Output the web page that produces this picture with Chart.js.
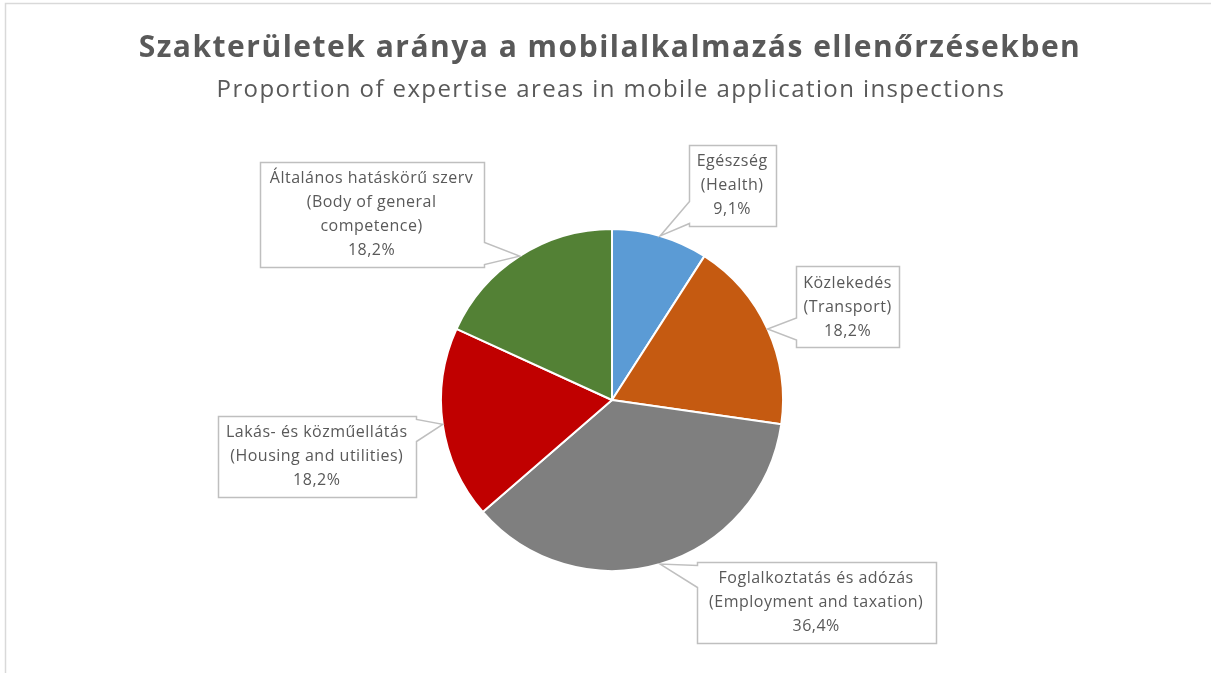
<!DOCTYPE html>
<html>
<head>
<meta charset="utf-8">
<script src="https://cdn.jsdelivr.net/npm/chart.js@4/dist/chart.umd.min.js"></script>
<style>
  html, body { margin: 0; padding: 0; background: #fff; }
  #wrap { width: 1211px; height: 673px; position: relative; }
</style>
</head>
<body>
<div id="wrap"><canvas id="shareChart"></canvas></div>
<script>
let categories = ["Egészség", "Közlekedés", "Foglalkoztatás és adózás", "Lakás- és közműellátás", "Általános hatáskörű szerv"];
let categoriesEn = ["(Health)", "(Transport)", "(Employment and taxation)", "(Housing and utilities)", "(Body of general\ncompetence)"];
let shares = [9.1, 18.2, 36.4, 18.2, 18.2];
let sliceColours = ["#5b9bd5", "#c55a11", "#7f7f7f", "#c00000", "#538135"];

let titleText = "Szakterületek aránya a mobilalkalmazás ellenőrzésekben";
let subtitleText = "Proportion of expertise areas in mobile application inspections";

// callout boxes: offset of box centre from the slice tip, and box width
let calloutOffsets = [[72, -50], [80, -22], [156, 38], [-126, 32], [-148, -42]];
let calloutWidths = [87, 103, 239, 198, 224];

const textGrey = "#595959";
const labelFont = "16px 'Open Sans'";

function pct(v) {
    return v.toFixed(1).replace(".", ",") + "%";
}

const frameAndTitle = {
    id: "frameAndTitle",
    beforeDraw(chart) {
        const ctx = chart.ctx;
        ctx.save();
        ctx.fillStyle = "#fff";
        ctx.fillRect(0, 0, chart.width, chart.height);
        ctx.strokeStyle = "#d9d9d9";
        ctx.lineWidth = 1.5;
        ctx.strokeRect(5.5, 3.5, chart.width + 20, chart.height + 20);
        ctx.fillStyle = textGrey;
        ctx.textAlign = "center";
        ctx.textBaseline = "middle";
        ctx.font = "bold 30px 'Open Sans'";
        ctx.letterSpacing = "1.5px";
        ctx.fillText(titleText, 610, 48);
        ctx.font = "24px 'Open Sans'";
        ctx.letterSpacing = "1.4px";
        ctx.fillText(subtitleText, 611, 90);
        ctx.restore();
    }
};

const callouts = {
    id: "callouts",
    afterDatasetsDraw(chart) {
        const ctx = chart.ctx;
        const meta = chart.getDatasetMeta(0);
        ctx.save();
        ctx.font = labelFont;
        meta.data.forEach(function (arc, i) {
            const p = arc.getProps(["x", "y", "startAngle", "endAngle", "outerRadius"], true);
            const mid = (p.startAngle + p.endAngle) / 2;
            const tx = p.x + Math.cos(mid) * p.outerRadius;
            const ty = p.y + Math.sin(mid) * p.outerRadius;

            const lines = [categories[i]].concat(categoriesEn[i].split("\n"), [pct(shares[i])]);
            const lh = 24;
            const w = calloutWidths[i];
            const h = lines.length * lh + 9;
            const cx = tx + calloutOffsets[i][0];
            const cy = ty + calloutOffsets[i][1];
            const x0 = Math.round(cx - w / 2) + 0.5, x1 = x0 + w;
            const y0 = Math.round(cy - h / 2) + 0.5, y1 = y0 + h;

            // which side the pointer leaves from
            let side;
            if (tx < x0) side = "left";
            else if (tx > x1) side = "right";
            else if (ty > y1) side = "bottom";
            else side = "top";
            const half = 11;
            const clamp = (v, a, b) => Math.max(a, Math.min(b, v));

            ctx.beginPath();
            ctx.moveTo(x0, y0);
            if (side === "top") {
                const c = clamp(tx, x0 + 14, x1 - 14);
                ctx.lineTo(c - half, y0); ctx.lineTo(tx, ty); ctx.lineTo(c + half, y0);
            }
            ctx.lineTo(x1, y0);
            if (side === "right") {
                const c = clamp(ty, y0 + 14, y1 - 14);
                ctx.lineTo(x1, c - half); ctx.lineTo(tx, ty); ctx.lineTo(x1, c + half);
            }
            ctx.lineTo(x1, y1);
            if (side === "bottom") {
                const c = clamp(tx, x0 + 14, x1 - 14);
                ctx.lineTo(c + half, y1); ctx.lineTo(tx, ty); ctx.lineTo(c - half, y1);
            }
            ctx.lineTo(x0, y1);
            if (side === "left") {
                const c = clamp(ty, y0 + 14, y1 - 14);
                ctx.lineTo(x0, c + half); ctx.lineTo(tx, ty); ctx.lineTo(x0, c - half);
            }
            ctx.closePath();
            ctx.fillStyle = "#fff";
            ctx.fill();
            ctx.strokeStyle = "#bfbfbf";
            ctx.lineWidth = 1.5;
            ctx.lineJoin = "miter";
            ctx.stroke();

            ctx.fillStyle = textGrey;
            ctx.textAlign = "center";
            ctx.textBaseline = "middle";
            ctx.letterSpacing = "0.5px";
            const top = cy - (lines.length * lh) / 2 + lh / 2;
            lines.forEach(function (ln, k) {
                ctx.fillText(ln, cx, top + k * lh);
            });
        });
        ctx.restore();
    }
};

new Chart(document.getElementById("shareChart"), {
    type: "pie",
    data: {
        labels: categories,
        datasets: [{
            data: shares,
            backgroundColor: sliceColours,
            borderColor: "#ffffff",
            borderWidth: 2
        }]
    },
    options: {
        responsive: true,
        maintainAspectRatio: false,
        animation: false,
        radius: 171,
        layout: { padding: { top: 229, bottom: 102, left: 300, right: 287 } },
        plugins: {
            legend: { display: false },
            tooltip: { enabled: false }
        }
    },
    plugins: [frameAndTitle, callouts]
});
</script>
</body>
</html>
